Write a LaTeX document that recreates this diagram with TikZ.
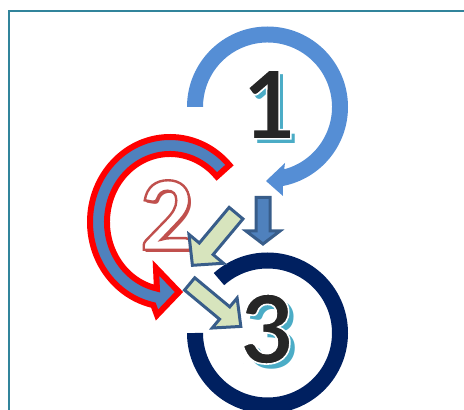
\documentclass[tikz,border=0pt]{standalone}
\usepackage{fontspec}
\newfontfamily\numfont{Carlito}
\definecolor{frameC}{RGB}{49,132,155}
\definecolor{cOneBlue}{RGB}{85,142,213}
\definecolor{cTwoBlue}{RGB}{79,129,189}
\definecolor{navyC}{RGB}{0,32,96}
\definecolor{arrowLine}{RGB}{56,93,138}
\definecolor{arrowGreen}{RGB}{215,228,189}
\definecolor{shadowTeal}{RGB}{75,172,198}
\definecolor{numDark}{RGB}{38,38,38}
\definecolor{numRed}{RGB}{192,80,77}
% text drawn with fill colour #1, stroke (r g b) #2, stroke width #3
\newcommand\strokedTxt[4]{{\color{#1}\special{pdf:literal direct 2 Tr #3 w #2 RG}#4\special{pdf:literal direct 0 Tr}}}
% shadow text behind, offset right/down
\newcommand\shadowTxt[4]{\makebox[0pt][l]{\smash{\hspace{#2}\raisebox{-#3}{\color{#1}#4}}}}
\begin{document}
\begin{tikzpicture}[x=1pt,y=1pt,
  ring/.style={line width=16, line cap=butt},
  blockarr/.style={draw=arrowLine, line width=3, line join=miter},
  numtxt/.style={inner sep=0, font=\numfont\bfseries\fontsize{106}{106}\selectfont}
]
\useasboundingbox (0,0) rectangle (464,410);
% frame
\coordinate (fa) at (9,0);
\coordinate (fb) at (9,399);
\coordinate (fc) at (464,399);
\draw[frameC, line width=2] (fa) -- (fb) -- (fc);

% circle 1 (light blue circular arrow)
\coordinate (c1) at (267.5,303);
\fill[cOneBlue] ([shift={(c1)}]180:80.5) arc[start angle=180,end angle=-79,radius=80.5]
  -- (283,214) -- (266,229) -- (285,247)
  -- ([shift={(c1)}]-75:64.5) arc[start angle=-75,end angle=180,radius=64.5] -- cycle;

% circle 2 (red outlined circular arrow)
\coordinate (c2) at (170,188);
\filldraw[fill=cTwoBlue, draw=red, line width=6, line join=miter]
  ([shift={(c2)}]42:80 and 85) arc[start angle=42,end angle=258,x radius=80,y radius=85]
  -- (157,95) -- (179,118) -- (156,142)
  -- ([shift={(c2)}]258:63 and 68) arc[start angle=258,end angle=42,x radius=63,y radius=68] -- cycle;

% circle 3 (navy ring)
\coordinate (c3) at (267.5,77);
\draw[navyC, ring] ([shift={(c3)}]132:72.5) arc[start angle=132,end angle=-180,radius=72.5];

% numbers
\node[numtxt] (n1) at (268,305.5)
  {\shadowTxt{shadowTeal}{4.5pt}{4.5pt}{1}\strokedTxt{numDark}{1 1 1}{1.6}{1}};
\node[numtxt] (n3) at (266,81)
  {\shadowTxt{shadowTeal}{5pt}{5pt}{3}\strokedTxt{numDark}{1 1 1}{1.6}{3}};
\node[numtxt] (n2) at (167,195)
  {\shadowTxt{numRed}{2.5pt}{2.5pt}{2}\strokedTxt{white}{0.753 0.314 0.302}{2.4}{2}};

% down arrow
\filldraw[blockarr, fill=cTwoBlue] (256,212.5) -- (270,212.5) -- (270,179) -- (280,179)
  -- (263,166) -- (246,179) -- (256,179) -- cycle;

% diagonal arrow (down-left)
\begin{scope}[shift={(237,198)}, rotate=230.1]
\filldraw[blockarr, fill=arrowGreen] (1.5,-9) -- (48,-9) -- (48,-22.5) -- (69.5,0)
  -- (48,22.5) -- (48,9) -- (1.5,9) -- cycle;
\end{scope}

% diagonal arrow (down-right)
\begin{scope}[shift={(188.5,127)}, rotate=-39.7]
\filldraw[blockarr, fill=arrowGreen] (1.5,-8) -- (47,-8) -- (47,-19.5) -- (68,0)
  -- (47,19.5) -- (47,8) -- (1.5,8) -- cycle;
\end{scope}
\end{tikzpicture}
\end{document}
